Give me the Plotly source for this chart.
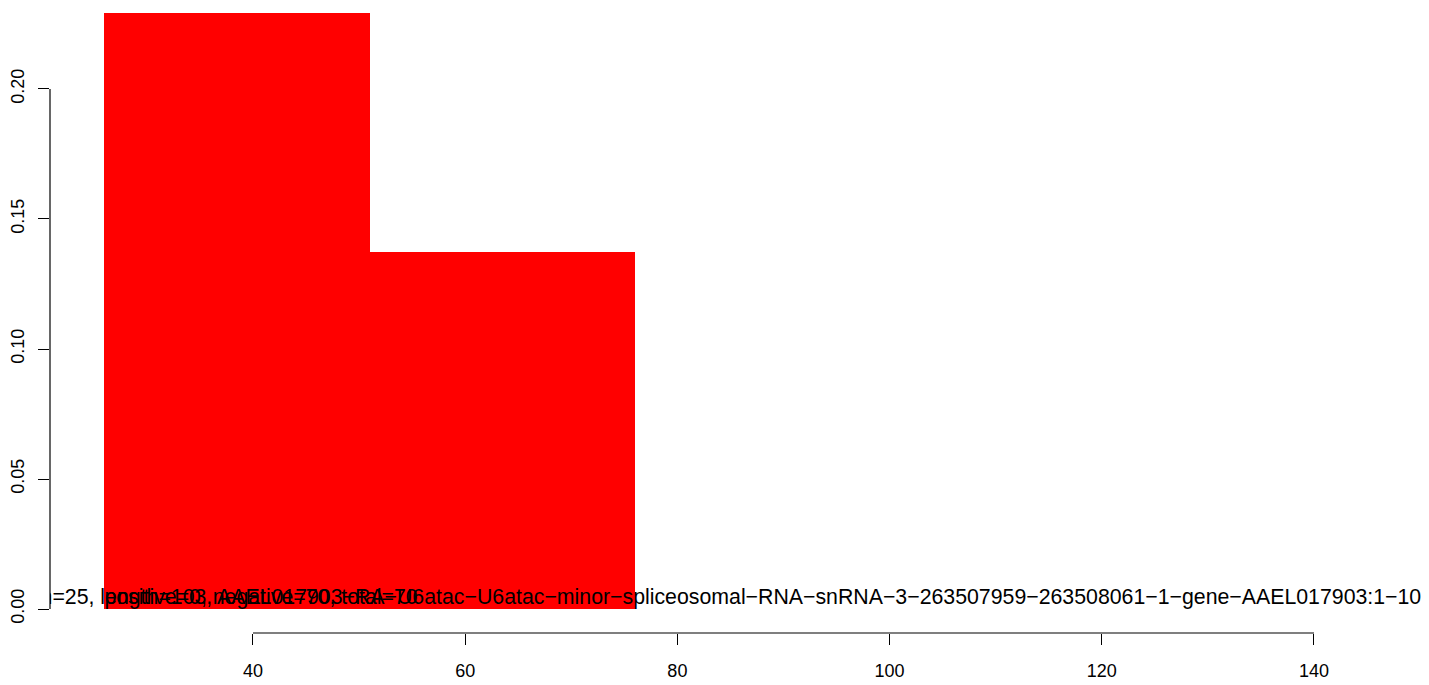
import plotly.graph_objects as go

# ---- data ----
bin_edges = [26, 51, 76]
densities = [0.2292, 0.1373]
x_ticks = [40, 60, 80, 100, 120, 140]
y_ticks = [0.00, 0.05, 0.10, 0.15, 0.20]
label_texts = [
    "n=25, length=103, AAEL017903−RA−U6atac−U6atac−minor−spliceosomal−RNA−snRNA−3−263507959−263508061−1−gene−AAEL017903:1−103",
    "positive=0, negative=70, total=70",
]
label_x = [85.6, 26]
label_pos = ["top center", "top right"]
x_range = [20.87, 150.84]
y_range = [-0.00923, 0.23115]

FONT = "Liberation Sans, Arial, Helvetica, sans-serif"

centers = [(a + b) / 2 for a, b in zip(bin_edges[:-1], bin_edges[1:])]
widths = [b - a for a, b in zip(bin_edges[:-1], bin_edges[1:])]

fig = go.Figure()
fig.add_trace(go.Bar(
    x=centers, y=densities, width=widths,
    marker=dict(color="#FF0000", line=dict(width=0)),
    hoverinfo="skip",
))
for t, x, p in zip(label_texts, label_x, label_pos):
    fig.add_trace(go.Scatter(
        x=[x], y=[0], mode="text", text=[t], textposition=p,
        textfont=dict(family=FONT, size=21.3, color="black"),
        cliponaxis=True, hoverinfo="skip",
    ))

# R-style axis lines spanning only the tick range
fig.add_shape(type="line", xref="x", yref="paper",
              x0=min(x_ticks), x1=max(x_ticks), y0=0, y1=0,
              line=dict(color="black", width=1.2), layer="above")
fig.add_shape(type="line", xref="paper", yref="y",
              x0=0, x1=0, y0=min(y_ticks), y1=max(y_ticks),
              line=dict(color="black", width=1.2), layer="above")

# the page body adds an 8px margin, so the figure is sized to fit the window
fig.update_layout(
    width=1421, height=677,
    margin=dict(l=42, r=0, t=0, b=52, pad=0),
    paper_bgcolor="white", plot_bgcolor="white",
    showlegend=False, bargap=0,
    font=dict(family=FONT, color="black", size=18),
)
fig.update_xaxes(
    range=x_range, tickvals=x_ticks, ticktext=[str(v) for v in x_ticks],
    ticks="outside", ticklen=11, tickwidth=1.2, tickcolor="black",
    showgrid=False, zeroline=False, showline=False,
    tickfont=dict(family=FONT, size=18, color="black"),
    ticklabelstandoff=10,
)
fig.update_yaxes(
    range=y_range, tickvals=y_ticks, ticktext=[f"{v:.2f}" for v in y_ticks],
    tickangle=-90,
    ticks="outside", ticklen=11, tickwidth=1.2, tickcolor="black",
    showgrid=False, zeroline=False, showline=False,
    tickfont=dict(family=FONT, size=18, color="black"),
    ticklabelstandoff=7,
)

fig.write_html("out.html")
